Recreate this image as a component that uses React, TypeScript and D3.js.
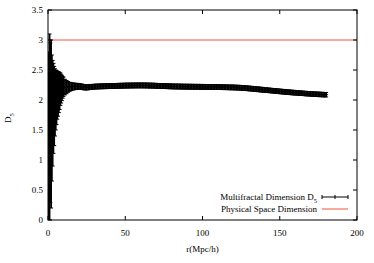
import React from "react";
import * as d3 from "d3";

// r (Mpc/h) values of the measured points
const rValues: number[] = [
  0.5, 1, 1.5, 2, 2.5, 3, 3.5, 4, 4.5, 5, 5.5, 6, 6.5, 7, 7.5, 8, 8.5, 9, 9.5, 10,
  11, 12, 13, 14, 15, 16, 17, 18, 19, 20, 21, 22, 23, 24, 25, 26, 27, 28, 29, 30,
  31, 32, 33, 34, 35, 36, 37, 38, 39, 40, 41, 42, 43, 44, 45, 46, 47, 48, 49, 50,
  51, 52, 53, 54, 55, 56, 57, 58, 59, 60, 61, 62, 63, 64, 65, 66, 67, 68, 69, 70,
  71, 72, 73, 74, 75, 76, 77, 78, 79, 80, 81, 82, 83, 84, 85, 86, 87, 88, 89, 90,
  91, 92, 93, 94, 95, 96, 97, 98, 99, 100, 101, 102, 103, 104, 105, 106, 107, 108, 109, 110,
  111, 112, 113, 114, 115, 116, 117, 118, 119, 120, 121, 122, 123, 124, 125, 126, 127, 128, 129, 130,
  131, 132, 133, 134, 135, 136, 137, 138, 139, 140, 141, 142, 143, 144, 145, 146, 147, 148, 149, 150,
  151, 152, 153, 154, 155, 156, 157, 158, 159, 160, 161, 162, 163, 164, 165, 166, 167, 168, 169, 170,
  171, 172, 173, 174, 175, 176, 177, 178, 179, 180,
];

// Multifractal dimension D5
const d5Values: number[] = [
  1.2, 1.55, 1.62, 1.6, 1.7, 1.78, 1.86, 1.9, 1.96, 2.0, 2.04, 2.08, 2.1, 2.13, 2.15, 2.18, 2.19, 2.2, 2.21, 2.22,
  2.215, 2.215, 2.218, 2.22, 2.222, 2.225, 2.226, 2.226, 2.227, 2.227, 2.225, 2.22, 2.215, 2.21, 2.21, 2.212, 2.215, 2.218, 2.22, 2.222,
  2.224, 2.225, 2.226, 2.227, 2.228, 2.229, 2.23, 2.23, 2.231, 2.232, 2.232, 2.233, 2.234, 2.235, 2.236, 2.237, 2.238, 2.238, 2.239, 2.24,
  2.24, 2.241, 2.241, 2.242, 2.242, 2.242, 2.243, 2.243, 2.243, 2.243, 2.243, 2.243, 2.242, 2.242, 2.241, 2.24, 2.24, 2.239, 2.238, 2.237,
  2.236, 2.235, 2.234, 2.233, 2.232, 2.231, 2.23, 2.229, 2.228, 2.227, 2.226, 2.226, 2.225, 2.225, 2.224, 2.224, 2.223, 2.223, 2.222, 2.222,
  2.222, 2.221, 2.221, 2.221, 2.22, 2.22, 2.22, 2.22, 2.219, 2.219, 2.219, 2.218, 2.218, 2.218, 2.217, 2.217, 2.216, 2.216, 2.215, 2.215,
  2.214, 2.214, 2.213, 2.213, 2.212, 2.212, 2.211, 2.21, 2.21, 2.209, 2.208, 2.207, 2.206, 2.205, 2.203, 2.201, 2.199, 2.197, 2.195, 2.193,
  2.19, 2.188, 2.186, 2.183, 2.181, 2.178, 2.176, 2.173, 2.171, 2.168, 2.166, 2.163, 2.161, 2.158, 2.156, 2.153, 2.151, 2.148, 2.146, 2.143,
  2.141, 2.139, 2.136, 2.134, 2.132, 2.13, 2.127, 2.125, 2.123, 2.121, 2.119, 2.117, 2.115, 2.113, 2.111, 2.109, 2.107, 2.105, 2.104, 2.102,
  2.1, 2.099, 2.097, 2.096, 2.094, 2.093, 2.091, 2.09, 2.089, 2.088,
];

// half-width of the error bars
const d5Errors: number[] = [
  1.6, 1.55, 1.33, 1.4, 1.05, 0.88, 0.75, 0.66, 0.56, 0.5, 0.45, 0.4, 0.37, 0.34, 0.31, 0.27, 0.24, 0.21, 0.18, 0.16,
  0.13, 0.11, 0.09, 0.075, 0.066, 0.06, 0.055, 0.052, 0.05, 0.048, 0.046, 0.045, 0.044, 0.043, 0.042, 0.042, 0.041, 0.041, 0.04, 0.04,
  0.04, 0.04, 0.04, 0.04, 0.04, 0.04, 0.04, 0.04, 0.04, 0.04, 0.04, 0.04, 0.04, 0.04, 0.04, 0.04, 0.04, 0.04, 0.04, 0.04,
  0.04, 0.04, 0.04, 0.04, 0.04, 0.04, 0.04, 0.04, 0.04, 0.04, 0.04, 0.04, 0.04, 0.04, 0.04, 0.04, 0.04, 0.04, 0.04, 0.04,
  0.04, 0.04, 0.04, 0.04, 0.04, 0.04, 0.04, 0.04, 0.04, 0.04, 0.04, 0.04, 0.04, 0.04, 0.04, 0.04, 0.04, 0.04, 0.04, 0.04,
  0.04, 0.04, 0.04, 0.04, 0.04, 0.04, 0.04, 0.04, 0.04, 0.04, 0.04, 0.04, 0.04, 0.04, 0.04, 0.04, 0.04, 0.04, 0.04, 0.04,
  0.039, 0.039, 0.039, 0.039, 0.039, 0.039, 0.039, 0.039, 0.039, 0.039, 0.039, 0.039, 0.039, 0.039, 0.039, 0.039, 0.039, 0.039, 0.039, 0.039,
  0.039, 0.039, 0.039, 0.039, 0.039, 0.039, 0.039, 0.039, 0.039, 0.039, 0.038, 0.038, 0.038, 0.038, 0.038, 0.038, 0.038, 0.038, 0.038, 0.038,
  0.038, 0.038, 0.038, 0.038, 0.038, 0.038, 0.038, 0.038, 0.038, 0.038, 0.037, 0.037, 0.037, 0.037, 0.037, 0.037, 0.037, 0.037, 0.037, 0.037,
  0.037, 0.037, 0.037, 0.037, 0.037, 0.037, 0.037, 0.037, 0.037, 0.037,
];

const physicalDimension = 3;
const xTicks: number[] = [0, 50, 100, 150, 200];
const yTicks: number[] = [0, 0.5, 1, 1.5, 2, 2.5, 3, 3.5];

const W = 374;
const H = 263;
const left = 48;
const right = 357;
const top = 10;
const bottom = 220;
const FONT = "'Liberation Serif', 'DejaVu Serif', serif";
const RED = "#f0553a";

export default function App() {
  const x = d3.scaleLinear().domain([0, 200]).range([left, right]);
  const y = d3.scaleLinear().domain([0, 3.5]).range([bottom, top]);
  const clamp = (v: number) => Math.max(top, Math.min(bottom, v));
  const cap = 2;

  const points = rValues.map((r, i) => ({ r, d: d5Values[i], e: d5Errors[i] }));

  return (
    <svg
      width={W}
      height={H}
      style={{ position: "absolute", left: 0, top: 0, background: "#fff" }}
      fontFamily={FONT}
    >
      <defs>
        <clipPath id="plot">
          <rect x={left} y={top} width={right - left} height={bottom - top} />
        </clipPath>
      </defs>

      {/* physical dimension line */}
      <line
        x1={x(0)}
        x2={x(200)}
        y1={y(physicalDimension)}
        y2={y(physicalDimension)}
        stroke={RED}
        strokeWidth={1}
      />

      {/* error bars */}
      <g stroke="#000" clipPath="url(#plot)">
        {points.map((p, i) => {
          const px = x(p.r);
          const lo = y(p.d - p.e);
          const hi = y(p.d + p.e);
          const loC = clamp(lo);
          const hiC = clamp(hi);
          return (
            <g key={i}>
              <line x1={px} x2={px} y1={loC} y2={hiC} strokeWidth={1.8} />
              {lo <= bottom && (
                <line x1={px - cap} x2={px + cap} y1={lo} y2={lo} strokeWidth={1} />
              )}
              {hi >= top && (
                <line x1={px - cap} x2={px + cap} y1={hi} y2={hi} strokeWidth={1} />
              )}
              <line x1={px - 2} x2={px + 2} y1={y(p.d)} y2={y(p.d)} strokeWidth={1} />
            </g>
          );
        })}
      </g>

      {/* frame */}
      <rect
        x={left}
        y={top}
        width={right - left}
        height={bottom - top}
        fill="none"
        stroke="#000"
        strokeWidth={1}
      />

      {/* y ticks */}
      {yTicks.map((t) => (
        <g key={"y" + t}>
          <line x1={left} x2={left + 4} y1={y(t)} y2={y(t)} stroke="#000" />
          <line x1={right} x2={right - 4} y1={y(t)} y2={y(t)} stroke="#000" />
          <text
            x={left - 5}
            y={y(t)}
            textAnchor="end"
            dominantBaseline="central"
            fontSize={9}
          >
            {t}
          </text>
        </g>
      ))}

      {/* x ticks */}
      {xTicks.map((t) => (
        <g key={"x" + t}>
          <line x1={x(t)} x2={x(t)} y1={bottom} y2={bottom - 4} stroke="#000" />
          <line x1={x(t)} x2={x(t)} y1={top} y2={top + 4} stroke="#000" />
          <text x={x(t)} y={bottom + 16} textAnchor="middle" fontSize={9}>
            {t}
          </text>
        </g>
      ))}

      {/* axis labels */}
      <text x={(left + right) / 2} y={252} textAnchor="middle" fontSize={9}>
        r(Mpc/h)
      </text>
      <text transform={`translate(11,118) rotate(-90)`} textAnchor="middle" fontSize={9}>
        D<tspan fontSize={6.5} dy={2.5}>5</tspan>
      </text>

      {/* legend */}
      <text x={317} y={197} textAnchor="end" dominantBaseline="central" fontSize={9}>
        Multifractal Dimension D<tspan fontSize={6.5} dy={2.5}>5</tspan>
      </text>
      <g stroke="#000" strokeWidth={1}>
        <line x1={322} x2={348} y1={197} y2={197} />
        <line x1={322} x2={322} y1={195} y2={199} />
        <line x1={348} x2={348} y1={195} y2={199} />
        <line x1={335} x2={335} y1={195} y2={199} />
      </g>
      <text x={317} y={209} textAnchor="end" dominantBaseline="central" fontSize={9}>
        Physical Space Dimension
      </text>
      <line x1={322} x2={348} y1={209} y2={209} stroke={RED} strokeWidth={1} />
    </svg>
  );
}
